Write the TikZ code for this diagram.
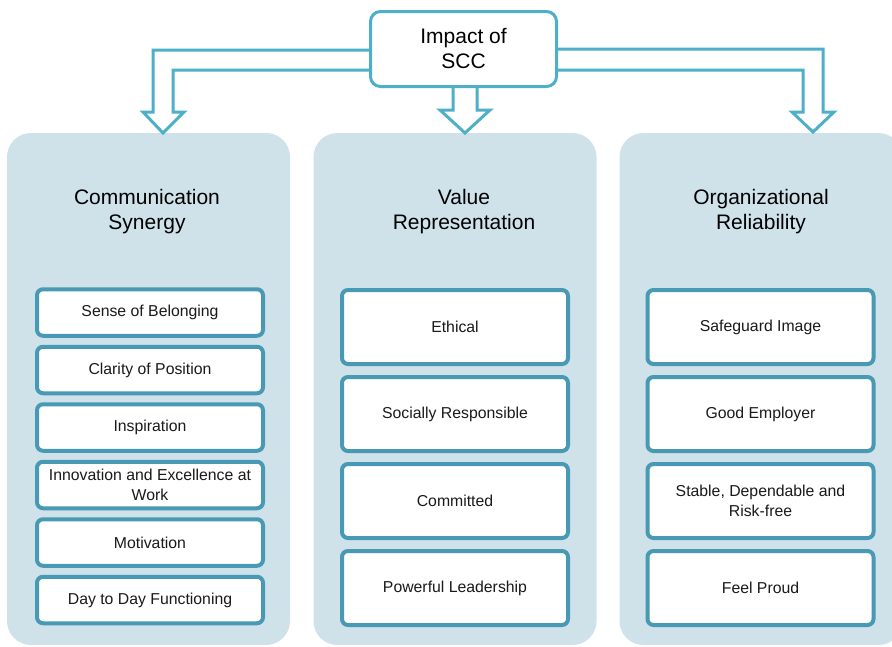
\documentclass[tikz,border=0pt]{standalone}
\usepackage{fontspec}
\setmainfont{Liberation Sans}
\usetikzlibrary{positioning, calc, shadows}
\definecolor{sccblue}{HTML}{4DAFC8}
\definecolor{sccteal}{HTML}{4899B3}
\definecolor{sccpanel}{HTML}{CFE2EA}
\definecolor{scctext}{HTML}{1A1A1A}

\tikzset{
  panel/.style={fill=sccpanel, rounded corners=24pt, minimum width=283pt, minimum height=512pt},
  heading/.style={align=center, font=\fontsize{21}{25}\selectfont, text=black},
  item/.style={draw=sccteal, line width=4pt, fill=white, rounded corners=6pt,
    minimum width=226pt, align=center, text=scctext,
    font=\fontsize{15.8}{19.5}\selectfont,
    drop shadow={shadow xshift=0pt, shadow yshift=-1.5pt, opacity=0.3}},
  shortitem/.style={item, minimum height=46.5pt},
  tallitem/.style={item, minimum height=74pt},
  flow/.style={draw=sccblue, line width=3pt, line join=miter}
}

\begin{document}
\begin{tikzpicture}[x=1pt, y=-1pt]
  \clip (0,0) rectangle (892,646);
  \fill[white] (0,0) rectangle (892,646);

  % the three columns
  \node[panel] (commPanel) at (148.5,389) {};
  \node[panel] (valuePanel) at (455,389) {};
  \node[panel] (orgPanel) at (761,389) {};

  \node[heading] (commTitle) at (147,212) {Communication\\Synergy};
  \node[heading] (valueTitle) at (464,212) {Value\\Representation};
  \node[heading] (orgTitle) at (761,212) {Organizational\\Reliability};

  % top box
  \node[draw=sccblue, line width=3pt, fill=white, rounded corners=10pt,
    minimum width=186pt, minimum height=75pt, align=center,
    font=\fontsize{21}{25}\selectfont] (impact) at (463.5,49) {Impact of\\SCC};

  % block arrows down to each column
  \coordinate (tipA) at (163,133);
  \coordinate (tipB) at (465,133);
  \coordinate (tipC) at (813,132);
  \coordinate (shaftB) at (impact.south -| tipB);

  \draw[flow] ($(impact.west)+(0,1)$) -| ($(tipA)+(-10,-21)$) -- ++(-10,0) -- (tipA)
    -- ++(21,-21) -- ++(-11,0) |- ($(impact.west)+(0,21)$);
  \draw[flow] ($(shaftB)+(-12,0)$) -- ($(tipB)+(-12,-23)$) -- ++(-13,0) -- (tipB)
    -- ++(25,-23) -- ++(-13,0) -- ($(shaftB)+(12,0)$);
  \draw[flow] ($(impact.east)+(0,0)$) -| ($(tipC)+(10,-20)$) -- ++(11,0) -- (tipC)
    -- ++(-21,-20) -- ++(11,0) |- ($(impact.east)+(0,21)$);

  % communication synergy
  \node[shortitem] (belonging) at (150,312.5) {Sense of Belonging};
  \node[shortitem, below=7pt of belonging] (clarity) {Clarity of Position};
  \node[shortitem, below=7pt of clarity] (inspiration) {Inspiration};
  \node[shortitem, below=7pt of inspiration] (innovation) {Innovation and Excellence at\\Work};
  \node[shortitem, below=7pt of innovation] (motivation) {Motivation};
  \node[shortitem, below=7pt of motivation] (daily) {Day to Day Functioning};

  % value representation
  \node[tallitem] (ethical) at (455,327) {Ethical};
  \node[tallitem, below=9pt of ethical] (social) {Socially Responsible};
  \node[tallitem, below=9pt of social] (committed) {Committed};
  \node[tallitem, below=9pt of committed] (leadership) {Powerful Leadership};

  % organizational reliability
  \node[tallitem] (image) at (760.5,327) {Safeguard Image};
  \node[tallitem, below=9pt of image] (employer) {Good Employer};
  \node[tallitem, below=9pt of employer] (stable) {Stable, Dependable and\\Risk-free};
  \node[tallitem, below=9pt of stable] (proud) {Feel Proud};
\end{tikzpicture}
\end{document}
